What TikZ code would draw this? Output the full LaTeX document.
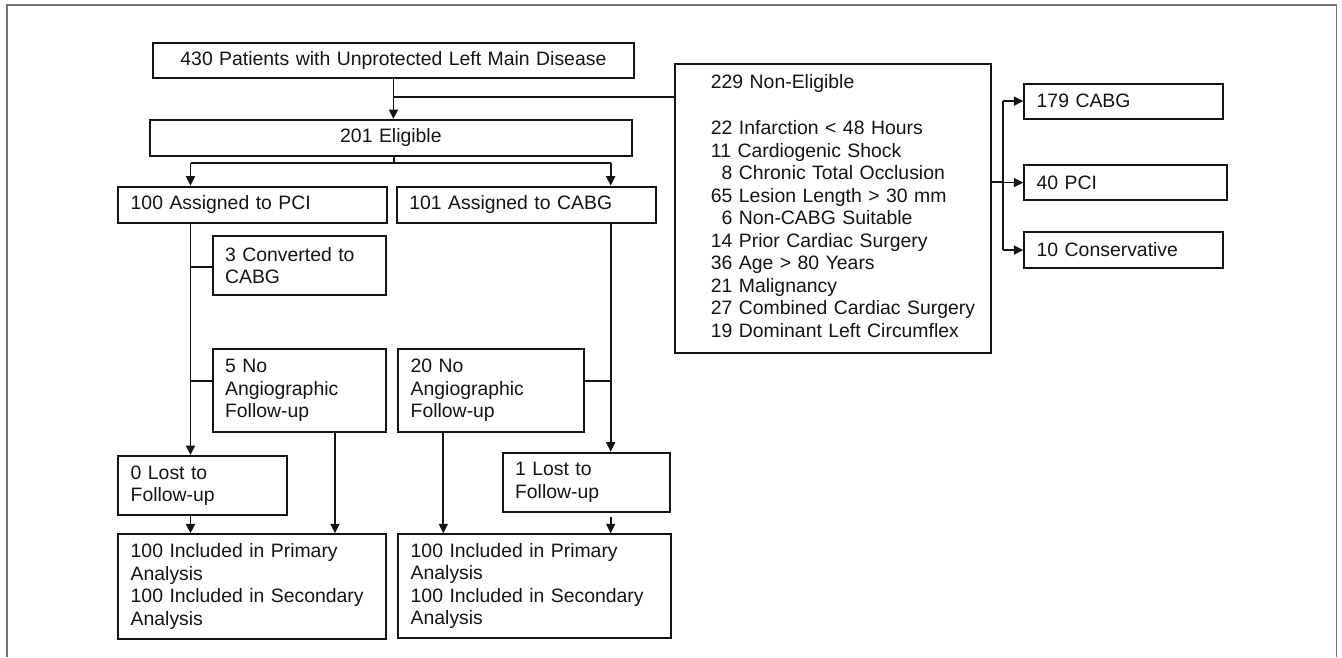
\documentclass[tikz,border=0pt]{standalone}
\usepackage{fontspec}
\setmainfont{Liberation Sans}
\usetikzlibrary{arrows.meta}
\definecolor{ink}{RGB}{20,20,20}
\definecolor{framec}{RGB}{115,115,115}
\begin{document}
\begin{tikzpicture}[x=1pt,y=-1pt,
  box/.style={draw=ink, line width=1.8pt, anchor=north west, inner xsep=12.5pt, inner ysep=2pt,
              align=left, font=\fontsize{19.4}{22.5}\selectfont, text=ink},
  cbox/.style={box, align=center},
  conn/.style={draw=ink, line width=1.8pt},
  arr/.style={conn, -{Triangle[length=9.5pt,width=9pt]}}]
\useasboundingbox (0,0) rectangle (1342,657);
% outer frame
\draw[framec, line width=1.2pt] (7,657) -- (7,5) -- (1336.5,5) -- (1336.5,657);

% boxes
\node[cbox, text width=456.6pt, minimum height=35.6pt] (top) at (151.7,41.7) {430 Patients with Unprotected Left Main Disease};
\node[cbox, text width=456.4pt, minimum height=36pt] (elig) at (149.3,119) {201 Eligible};
\node[box, text width=243.4pt, minimum height=36.6pt] (pci) at (117.3,185.7) {100 Assigned to PCI};
\node[box, text width=234pt, minimum height=36.6pt] (cabg) at (396,185.7) {101 Assigned to CABG};
\node[box, text width=148.3pt, minimum height=59pt] (conv) at (211.7,235) {3 Converted to\\CABG};
\node[box, text width=148.3pt, minimum height=82.4pt] (noang1) at (211.7,348.3) {5 No\\Angiographic\\Follow-up};
\node[box, text width=161pt, minimum height=82.4pt] (noang2) at (397.3,348.3) {20 No\\Angiographic\\Follow-up};
\node[box, text width=143.4pt, minimum height=59.3pt] (lost1) at (117.3,455) {0 Lost to\\Follow-up};
\node[box, text width=142.3pt, minimum height=59pt] (lost2) at (501.7,451.7) {1 Lost to\\Follow-up};
\node[box, text width=242.7pt, minimum height=105pt] (inc1) at (117.3,533.3) {100 Included in Primary\\Analysis\\100 Included in Secondary\\Analysis};
\node[box, text width=247.7pt, minimum height=104pt] (inc2) at (397.3,533.3) {100 Included in Primary\\Analysis\\100 Included in Secondary\\Analysis};
\node[box, text width=291.3pt, minimum height=288.4pt] (noneli) at (674,63.3) {\begin{tabular}{@{\hspace{23.5pt}}l@{}}
229 Non-Eligible\\[1.5pt]
\\
22 Infarction < 48 Hours\\
11 Cardiogenic Shock\\
\phantom{1}8 Chronic Total Occlusion\\
65 Lesion Length > 30 mm\\
\phantom{1}6 Non-CABG Suitable\\
14 Prior Cardiac Surgery\\
36 Age > 80 Years\\
21 Malignancy\\
27 Combined Cardiac Surgery\\
19 Dominant Left Circumflex
\end{tabular}};
\node[box, text width=173.4pt, minimum height=35pt] (r1) at (1023.3,82.7) {179 CABG};
\node[box, text width=177.4pt, minimum height=34.7pt] (r2) at (1023.3,164.3) {40 PCI};
\node[box, text width=173.4pt, minimum height=36.3pt] (r3) at (1023.3,231) {10 Conservative};

% helper coordinates
\path (top.south) ++(0,17.7) coordinate (j1);
\coordinate (j2) at (393.7,163);
\coordinate (pcia) at (190.5,163);
\coordinate (cabga) at (610.7,163);
\coordinate (rv) at (1003.3,182.3);
\coordinate (l2s) at ([yshift=-4.5pt]lost2.south);

% top connectors
\draw[arr] (top.south) -- (top.south |- elig.north);
\draw[conn] (j1) -- (noneli.west |- j1);

% eligible split
\draw[conn] (elig.south -| j2) -- (j2);
\draw[conn] (pcia) -- (cabga);
\draw[arr] (pcia) -- (pcia |- pci.north);
\draw[arr] (cabga) -- (cabga |- cabg.north);

% PCI arm
\draw[arr] (pci.south -| pcia) -- (pcia |- lost1.north);
\draw[conn] (pcia |- 0,267.3) -- (conv.west |- 0,267.3);
\draw[conn] (pcia |- 0,380.7) -- (noang1.west |- 0,380.7);
\draw[arr] (noang1.south -| 335,0) -- (335,0 |- inc1.north);
\draw[arr] (lost1.south -| pcia) -- (pcia |- inc1.north);

% CABG arm
\draw[arr] (cabg.south -| cabga) -- (cabga |- lost2.north);
\draw[conn] (noang2.east |- 0,380.7) -- (cabga |- 0,380.7);
\draw[arr] (noang2.south -| 443.3,0) -- (443.3,0 |- inc2.north);
\draw[arr] (l2s -| cabga) -- (cabga |- inc2.north);

% non-eligible split
\draw[conn] (noneli.east |- rv) -- (rv);
\draw[conn] (rv |- r1.west) -- (rv |- r3.west);
\draw[arr] (rv |- r1.west) -- (r1.west);
\draw[arr] (rv |- r2.west) -- (r2.west);
\draw[arr] (rv |- r3.west) -- (r3.west);
\end{tikzpicture}
\end{document}
